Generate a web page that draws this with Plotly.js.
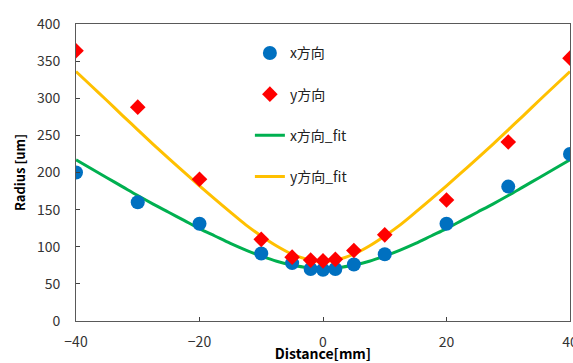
<!DOCTYPE html>
<html>
<head>
<meta charset="utf-8">
<script src="https://cdn.plot.ly/plotly-3.0.1.min.js"></script>
<style>html,body{margin:0;padding:0;background:#fff;}#chart{width:573px;height:363px;}</style>
</head>
<body>
<div id="chart"></div>
<script>
// measured points
var distX = [-40, -30, -20, -10, -5, -2, 0, 2, 5, 10, 20, 30, 40];
var radiusX = [200, 160, 131, 91, 78, 70, 69, 70, 76, 90, 131, 181, 225];
var distY = [-40, -30, -20, -10, -5, -2, 0, 2, 5, 10, 20, 30, 40];
var radiusY = [364, 288, 191, 110, 86, 82, 81, 83, 95, 116, 163, 241, 354];
// fit curves
var fitDist = [-40, -37.5, -35, -32.5, -30, -27.5, -25, -22.5, -20, -17.5, -15, -12.5, -10, -7.5, -5, -2.5, 0, 2.5, 5, 7.5, 10, 12.5, 15, 17.5, 20, 22.5, 25, 27.5, 30, 32.5, 35, 37.5, 40];
var fitX = [217, 205, 193, 181, 169, 157.5, 146.5, 135.5, 124.5, 114.5, 104.5, 95.5, 87.5, 80.5, 75.5, 72, 71, 72, 75.5, 80.5, 87.5, 95.5, 104.5, 114.5, 124.5, 135.5, 146.5, 157.5, 169, 181, 193, 205, 217];
var fitY = [336, 316.5, 297, 277, 257.5, 238, 219, 200.5, 182, 164, 146.5, 129.5, 114.5, 101, 90, 83, 80, 83, 90, 101, 114.5, 129.5, 146.5, 164, 182, 200.5, 219, 238, 257.5, 277, 297, 316.5, 336];
var names = ['x方向', 'y方向', 'x方向_fit', 'y方向_fit'];

var cjk = '"Noto Sans CJK SC", "Noto Sans", sans-serif';
var traces = [
  {x: fitDist, y: fitX, name: names[2], mode: 'lines', type: 'scatter', line: {color: '#00B050', width: 3, shape: 'spline', smoothing: 1}, legendgroup: 'c', legendrank: 3},
  {x: fitDist, y: fitY, name: names[3], mode: 'lines', type: 'scatter', line: {color: '#FFC000', width: 3, shape: 'spline', smoothing: 1}, legendgroup: 'd', legendrank: 4},
  {x: distX, y: radiusX, name: names[0], mode: 'markers', type: 'scatter', marker: {color: '#0070C0', size: 14, symbol: 'circle'}, legendgroup: 'a', legendrank: 1},
  {x: distY, y: radiusY, name: names[1], mode: 'markers', type: 'scatter', marker: {color: '#FF0000', size: 12, symbol: 'diamond'}, legendgroup: 'b', legendrank: 2}
];

var layout = {
  width: 573, height: 363,
  margin: {l: 76, r: 3, t: 24, b: 42},
  paper_bgcolor: '#ffffff', plot_bgcolor: '#ffffff',
  font: {family: cjk, size: 14, color: '#404040'},
  showlegend: true,
  legend: {x: 0.352, y: 0.955, xanchor: 'left', yanchor: 'top', bgcolor: 'rgba(0,0,0,0)', tracegroupgap: 20, font: {family: cjk, size: 14, color: '#222'}},
  xaxis: {
    range: [-40, 40], tickvals: [-40, -20, 0, 20, 40], ticks: 'inside', ticklen: 4, tickcolor: '#404040',
    showgrid: false, zeroline: false, showline: true, linecolor: '#595959', linewidth: 1, mirror: true,
    ticklabelstandoff: 8, ticklabeloverflow: 'allow', tickfont: {size: 14, color: '#333'},
    title: {text: '<b>Distance[mm]</b>', font: {size: 14, color: '#000'}, standoff: 6}
  },
  yaxis: {
    range: [0, 400], tickvals: [0, 50, 100, 150, 200, 250, 300, 350, 400], ticks: 'inside', ticklen: 4, tickcolor: '#404040',
    showgrid: false, zeroline: false, showline: true, linecolor: '#595959', linewidth: 1, mirror: true,
    ticklabelstandoff: 12, tickfont: {size: 14, color: '#333'},
    title: {text: '<b>Radius [um]</b>', font: {size: 13, color: '#000'}, standoff: 8}
  }
};
Plotly.newPlot('chart', traces, layout, {staticPlot: true, displayModeBar: false});
</script>
</body>
</html>
